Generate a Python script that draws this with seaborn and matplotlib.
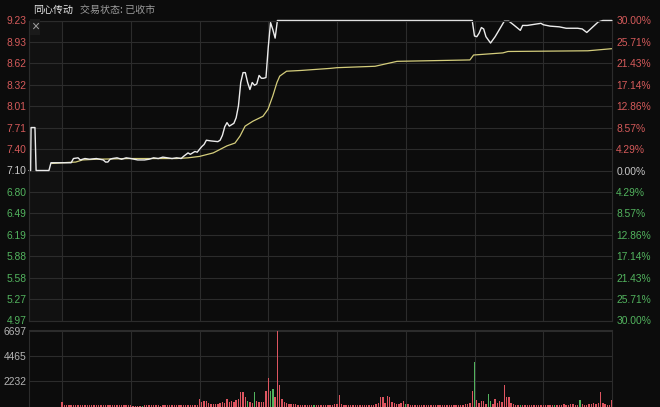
import matplotlib
matplotlib.use("Agg")
import matplotlib.pyplot as plt
import seaborn as sns

# header text
stock_name = "同心传动"
status_text = "交易状态: 已收市"
prev_close = 7.10

# axis ticks
price_ticks = [9.23, 8.93, 8.62, 8.32, 8.01, 7.71, 7.40, 7.10,
               6.80, 6.49, 6.19, 5.88, 5.58, 5.27, 4.97]
pct_labels = ["30.00%", "25.71%", "21.43%", "17.14%", "12.86%", "8.57%", "4.29%", "0.00%",
              "4.29%", "8.57%", "12.86%", "17.14%", "21.43%", "25.71%", "30.00%"]
vol_ticks = [6697, 4465, 2232]
time_grid = [0, 30, 60, 90, 120, 150, 180, 210]

# price line, minutes after 9:30 (negative = call auction)
price_min = [-14.4, -13.7, -13.5, -11.8, -11.3, -5.7, -4.8, 0, 4, 5, 7, 8, 10, 12, 15, 18, 19, 20,
             21, 22, 24, 26, 28, 30, 33, 36, 38, 40, 42, 44, 46, 48, 50, 52, 53, 55, 56, 58,
             59, 60, 61, 62, 63, 65, 68, 69, 70, 71, 72, 73, 74, 75, 76, 77, 78, 79, 80, 81,
             82, 83, 84, 85, 86, 87, 88, 89, 90, 91, 92, 93, 94, 179, 180, 181, 182, 183, 184,
             185, 187, 189, 191, 193, 195, 197, 200, 201, 203, 205, 207, 209, 210, 213, 217,
             220, 225, 227, 229, 231, 234, 236, 240]
price_val = [7.10, 7.10, 7.71, 7.71, 7.10, 7.10, 7.21, 7.21, 7.21, 7.27, 7.28, 7.25, 7.27, 7.26,
             7.27, 7.25, 7.22, 7.22, 7.26, 7.27, 7.28, 7.26, 7.28, 7.27, 7.25, 7.25, 7.26, 7.28,
             7.27, 7.29, 7.28, 7.27, 7.28, 7.27, 7.30, 7.35, 7.33, 7.37, 7.36, 7.40, 7.44, 7.47,
             7.53, 7.52, 7.51, 7.53, 7.60, 7.72, 7.78, 7.73, 7.75, 7.77, 7.85, 8.02, 8.35, 8.49,
             8.49, 8.35, 8.25, 8.35, 8.31, 8.33, 8.45, 8.41, 8.41, 8.42, 8.85, 9.20, 9.10, 8.98,
             9.23, 9.23, 9.01, 9.00, 9.05, 9.13, 9.11, 9.00, 8.91, 9.00, 9.11, 9.22, 9.22, 9.17,
             9.09, 9.16, 9.16, 9.17, 9.18, 9.19, 9.17, 9.15, 9.14, 9.12, 9.12, 9.11, 9.06, 9.12,
             9.21, 9.23, 9.23]

# average price line
avg_min = [-4.5, 0, 6, 9, 15, 30, 50, 55, 60, 66, 72, 75.5, 77.7, 79.9, 83.3, 87.7, 89.9, 92,
           93.8, 95, 98, 104, 117, 120, 136.6, 146.2, 178, 179.6, 192.4, 194.6, 229.5, 240]
avg_val = [7.20, 7.21, 7.22, 7.25, 7.26, 7.27, 7.27, 7.28, 7.30, 7.35, 7.45, 7.49, 7.59, 7.73,
           7.80, 7.87, 7.97, 8.16, 8.35, 8.44, 8.51, 8.52, 8.55, 8.56, 8.58, 8.65, 8.67, 8.74,
           8.77, 8.79, 8.80, 8.83]

# volume per minute 0..240
volumes = [420,
           150, 120, 100, 130, 110, 90, 120, 100, 140,
           110, 130, 100, 90, 120, 110, 100, 130, 90, 110,
           100, 120, 90, 100, 110, 130, 120, 100, 90, 110,
           100, 40, 30, 40, 30, 60, 100, 110, 90, 120,
           100, 90, 110, 80, 100, 120, 90, 100, 110, 130,
           100, 110, 90, 120, 130, 100, 120, 140, 150, 160,
           650, 420, 520, 480, 300, 250, 200, 230, 260, 300,
           420, 350, 650, 400, 480, 420, 600, 700, 1270, 1250,
           800, 450, 380, 300, 1270, 500, 420, 380, 420, 1350,
           2570, 1400, 1580, 800, 6697, 1940, 650, 400, 350, 250,
           250, 200, 180, 150, 160, 140, 130, 150, 120, 140,
           130, 120, 110, 150, 130, 120, 110, 100, 120, 200,
           250, 1040, 200, 150, 120, 130, 110, 100, 120, 110,
           120, 100, 130, 110, 120, 140, 150, 200, 300, 860,
           800, 350, 950, 860, 400, 300, 250, 200, 350, 500,
           200, 180, 150, 160, 150, 140, 130, 120, 150, 140,
           120, 130, 110, 140, 120, 130, 100, 120, 110, 130,
           120, 110, 130, 140, 150, 160, 180, 200, 300, 1340,
           3960, 600, 300, 450, 500, 250, 1130, 500, 250, 650,
           300, 450, 400, 1940, 860, 860, 300, 200, 150, 130,
           120, 130, 110, 120, 100, 110, 120, 130, 110, 100,
           120, 110, 130, 100, 120, 110, 130, 140, 150, 200,
           160, 140, 180, 200, 150, 170, 580, 200, 150, 160,
           180, 200, 350, 250, 300, 1250, 300, 200, 150, 120,
           580]
vol_down = [35, 81, 84, 91, 92, 110, 150, 180, 186, 187, 200, 215, 226]

bg = "#0c0c0c"
grid_c = "#2c2c2c"
red_c = "#d45a5a"
green_c = "#52b35e"

sns.set_theme(style="dark", rc={"axes.facecolor": bg, "figure.facecolor": bg})
plt.rcParams["font.family"] = ["Liberation Sans", "Noto Sans CJK SC", "DejaVu Sans"]

fig = plt.figure(figsize=(6.6, 4.07), dpi=100)
W, H = 660, 407
ax = fig.add_axes([29 / W, 1 - 320.5 / H, (612 - 29) / W, (320.5 - 20.5) / H])
axv = fig.add_axes([29 / W, 1 - 406.5 / H, (612 - 29) / W, (406.5 - 330) / H])

xlim = (-14.4, 240)

# price panel
sns.lineplot(x=avg_min, y=avg_val, ax=ax, color="#d4cd7c", lw=0.9, zorder=3, clip_on=False)
sns.lineplot(x=price_min, y=price_val, ax=ax, color="#ececec", lw=1.0, zorder=4, clip_on=False)
ax.set_xlim(*xlim)
ax.set_ylim(price_ticks[-1], price_ticks[0])
ax.axvspan(xlim[0], 0, color="#111111", zorder=0)
ax.set_xticks(time_grid)
ax.set_xticklabels([])
ax.set_yticks(price_ticks)
ax.set_yticklabels([f"{p:.2f}" for p in price_ticks])
ax.tick_params(axis="both", length=0, pad=2, labelsize=7.4)
for p, lab in zip(price_ticks, ax.get_yticklabels()):
    lab.set_color(red_c if p > prev_close else (green_c if p < prev_close else "#c8c8c8"))
ax.grid(True, color=grid_c, lw=0.8)
ax.set_xlabel("")
ax.set_ylabel("")

ax2 = ax.twinx()
ax2.set_ylim(ax.get_ylim())
ax2.set_yticks(price_ticks)
ax2.set_yticklabels(pct_labels)
ax2.tick_params(axis="y", length=0, pad=3, labelsize=7.4)
for p, lab in zip(price_ticks, ax2.get_yticklabels()):
    lab.set_color(red_c if p > prev_close else (green_c if p < prev_close else "#c8c8c8"))
ax2.grid(False)

# volume panel
vol_min = list(range(len(volumes)))
vol_col = [green_c if m in vol_down else "#dd5560" for m in vol_min]
axv.bar(vol_min, volumes, width=0.6, color=vol_col, linewidth=0, zorder=3)
axv.set_xlim(*xlim)
axv.set_ylim(0, 6785)
axv.set_xticks(time_grid)
axv.set_xticklabels([])
axv.set_yticks(vol_ticks)
axv.set_yticklabels([str(v) for v in vol_ticks])
axv.tick_params(axis="both", length=0, pad=2, labelsize=7.4, labelcolor="#b4b4b4")
axv.grid(True, color=grid_c, lw=0.8)

for a in (ax, ax2, axv):
    for s in a.spines.values():
        s.set_color(grid_c)
        s.set_linewidth(0.8)

# header
fig.text(33 / W, 1 - 10 / H, stock_name, color="#e6e6e6", fontsize=7.2, va="center",
         family=["Noto Sans CJK SC", "DejaVu Sans"])
fig.text(80 / W, 1 - 10 / H, status_text, color="#9c9c9c", fontsize=7.2, va="center",
         family=["Noto Sans CJK SC", "DejaVu Sans"])
fig.text(35 / W, 1 - 27 / H, "×", color="#a0a0a0", fontsize=10, ha="center", va="center",
         bbox=dict(boxstyle="square,pad=0.1", fc="#1a1a1a", ec="none"))

fig.savefig("out.png", dpi=100, facecolor=bg)
